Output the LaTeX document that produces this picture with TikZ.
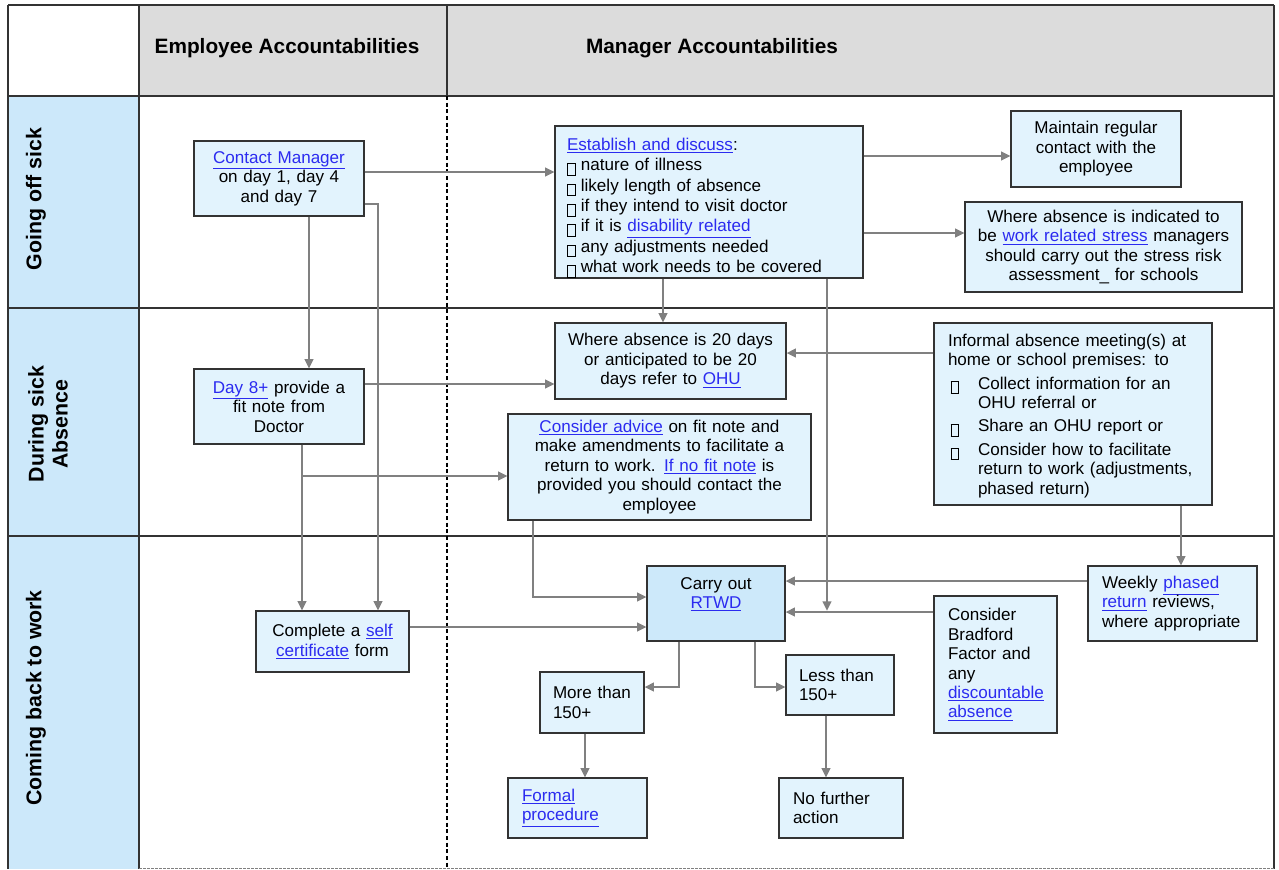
\documentclass[tikz,border=0pt]{standalone}
\usepackage{fontspec}
\setmainfont{Liberation Sans}
\usetikzlibrary{arrows.meta}
\definecolor{linkc}{HTML}{2B2BF0}
\definecolor{boxf}{HTML}{E2F3FD}
\definecolor{rtwdf}{HTML}{CDE9FA}
\definecolor{lblf}{HTML}{CCE8FA}
\definecolor{hdrf}{HTML}{DCDCDC}
\definecolor{arrc}{HTML}{808080}
\definecolor{bord}{HTML}{333333}
\hyphenpenalty=10000
\exhyphenpenalty=10000
\newcommand\lk[1]{{\color{linkc}$\underline{\hbox{#1}}$}}
\newcommand\bxx{\raisebox{-3pt}{\fboxsep=0pt\fboxrule=0.7pt\fbox{\rule{0pt}{8pt}\rule{5pt}{0pt}}}}
\newcommand\nf{\fontsize{12.8}{14.6}\selectfont}
\newcommand\ind{\hspace*{22.5pt}}
\newcommand\ibx{\makebox[22.5pt][l]{\hspace{2pt}\bxx}}
\tikzset{
  bx/.style={draw=bord, fill=boxf, line width=0.9pt, inner sep=0pt, font=\nf},
  wh/.style n args={2}{minimum width=#1*0.75pt, minimum height=#2*0.75pt},
  tw/.style={text width=#1*0.75pt},
  arr/.style={draw=arrc, line width=1.4pt, -{Triangle[length=7pt,width=6.5pt]}},
  tbl/.style={draw=bord, line width=0.8pt},
  lbl/.style={font=\bfseries\fontsize{16}{18}\selectfont, rotate=90, align=center},
  hdr/.style={font=\bfseries\fontsize{15.6}{18}\selectfont}
}
\begin{document}
\begin{tikzpicture}[x=0.75pt,y=-0.75pt]
\useasboundingbox (0,0) rectangle (1279,869);
% table
\fill[lblf] (8,96) rectangle (139,869);
\fill[hdrf] (139,5) rectangle (1274,96);
\draw[tbl] (8,5) -- (1274,5);
\draw[tbl] (8,5) -- (8,869);
\draw[tbl] (1274,5) -- (1274,869);
\draw[tbl] (8,96) -- (1274,96);
\draw[tbl] (8,308) -- (1274,308);
\draw[tbl] (8,536) -- (1274,536);
\draw[tbl] (139,5) -- (139,869);
\draw[tbl] (447,5) -- (447,96);
\draw[line width=0.8pt, dash pattern=on 3pt off 2pt] (447,96) -- (447,869);
\draw[arrc, line width=0.6pt, dash pattern=on 2pt off 1pt] (139,868) -- (1274,868);
\node[hdr] (h1) at (287,48) {Employee Accountabilities};
\node[hdr] (h2) at (712,48) {Manager Accountabilities};
\node[lbl] (r1) at (36,199) {Going off sick};
\node[lbl] (r2) at (48,424) {During sick\\Absence};
\node[lbl] (r3) at (36,698) {Coming back to work};
% nodes
\node[bx, wh={170}{75}, tw=160, align=center] (cm) at (279,178.5)
  {\lk{Contact Manager}\\on day 1, day 4\\and day 7};
\node[bx, wh={308}{152}, tw=284, align=left, font=\fontsize{12.8}{15.3}\selectfont] (est) at (709,202)
  {\rule{0pt}{18pt}\lk{Establish and discuss}:\\
   \bxx\hspace{4pt}nature of illness\\
   \bxx\hspace{4pt}likely length of absence\\
   \bxx\hspace{4pt}if they intend to visit doctor\\
   \bxx\hspace{4pt}if it is \lk{disability related}\\
   \bxx\hspace{4pt}any adjustments needed\\
   \bxx\hspace{4pt}what work needs to be covered};
\node[bx, wh={170}{76}, tw=160, align=center] (mrc) at (1096,149)
  {Maintain regular\\contact with the\\employee};
\node[bx, wh={277}{90}, tw=270, align=center] (str) at (1103.5,247)
  {Where absence is indicated to\\be \lk{work related stress} managers\\should carry out the stress risk\\assessment\_ for schools};
\node[bx, wh={231}{76}, tw=224, align=center] (a20) at (670.5,361)
  {Where absence is 20 days\\or anticipated to be 20\\days refer to \lk{OHU}};
\node[bx, wh={278}{182}, tw=250, align=left] (inf) at (1073,414)
  {\rule{0pt}{12pt}Informal absence meeting(s) at\\home~or~school~premises: to\\[3pt]
   \ibx Collect~information~for~an\\\ind OHU referral or\\[3pt]
   \ibx Share~an~OHU~report~or\\[3pt]
   \ibx Consider~how~to~facilitate\\\ind return~to~work~(adjustments,\\\ind phased return)};
\node[bx, wh={170}{75}, tw=160, align=center] (d8) at (279,406.5)
  {\lk{Day 8+} provide a\\fit note from\\Doctor};
\node[bx, wh={303}{106}, tw=296, align=center] (adv) at (659.5,467)
  {\lk{Consider advice} on fit note and\\make~amendments~to~facilitate~a\\return to work. \lk{If no fit note} is\\provided~you~should~contact~the\\employee};
\node[bx, fill=rtwdf, wh={138}{75}, tw=130, align=center] (rtwd) at (716,603.5)
  {\rule{0pt}{12pt}Carry out\\\lk{RTWD}\\\strut};
\node[bx, wh={169}{75}, tw=141, align=left] (wk) at (1172.5,603.5)
  {Weekly~\lk{phased}\\\lk{return}~reviews,\\where~appropriate};
\node[bx, wh={123}{137}, tw=95, align=left] (brd) at (995.5,664.5)
  {Consider\\Bradford\\Factor~and\\any\\\lk{discountable}\\\lk{absence}};
\node[bx, wh={153}{61}, tw=146, align=center] (sc) at (332.5,641.5)
  {Complete a \lk{self}\\\lk{certificate} form};
\node[bx, wh={104}{61}, tw=78, align=left] (mt) at (592,702.5)
  {More~than\\150+};
\node[bx, wh={108}{60}, tw=82, align=left] (lt) at (840,685)
  {Less~than\\150+};
\node[bx, wh={139}{60}, tw=111, align=left] (fp) at (577.5,808)
  {\lk{Formal}\\\lk{procedure}};
\node[bx, wh={124}{60}, tw=96, align=left] (nfa) at (841,808)
  {No~further\\action};
\coordinate (jn) at (827,612);
% connectors
\draw[arr] (cm.east |- 0,172) -- (est.west |- 0,172);
\draw[arr] (est.east |- 0,156) -- (mrc.west |- 0,156);
\draw[arr] (est.east |- 0,233) -- (str.west |- 0,233);
\draw[arr] (est.south -| 663,0) -- (a20.north -| 663,0);
\draw[arr] (cm.south -| 309,0) -- (d8.north -| 309,0);
\draw[arr] (cm.east |- 0,204) -| (sc.north -| 378,0);
\draw[arr] (brd.west |- jn) -- (rtwd.east |- jn);
\draw[arr] (est.south -| jn) -- ([yshift=1pt]jn);
\draw[arr] (inf.west |- 0,353) -- (a20.east |- 0,353);
\draw[arr] (d8.east |- 0,384) -- (a20.west |- 0,384);
\draw[arr] (d8.south -| 302,0) |- (adv.west |- 0,476);
\draw[arr] (d8.south -| 302,0) -- (sc.north -| 302,0);
\draw[arr] (adv.south -| 533,0) |- (rtwd.west |- 0,597);
\draw[arr] (sc.east |- 0,627) -- (rtwd.west |- 0,627);
\draw[arr] (inf.south -| 1181,0) -- (wk.north -| 1181,0);
\draw[arr] (wk.west |- 0,581) -- (rtwd.east |- 0,581);
\draw[arr] (rtwd.south -| 679,0) |- (mt.east |- 0,687);
\draw[arr] (rtwd.south -| 755,0) |- (lt.west |- 0,687);
\draw[arr] (mt.south -| 585,0) -- (fp.north -| 585,0);
\draw[arr] (lt.south -| 826,0) -- (nfa.north -| 826,0);
\end{tikzpicture}
\end{document}
